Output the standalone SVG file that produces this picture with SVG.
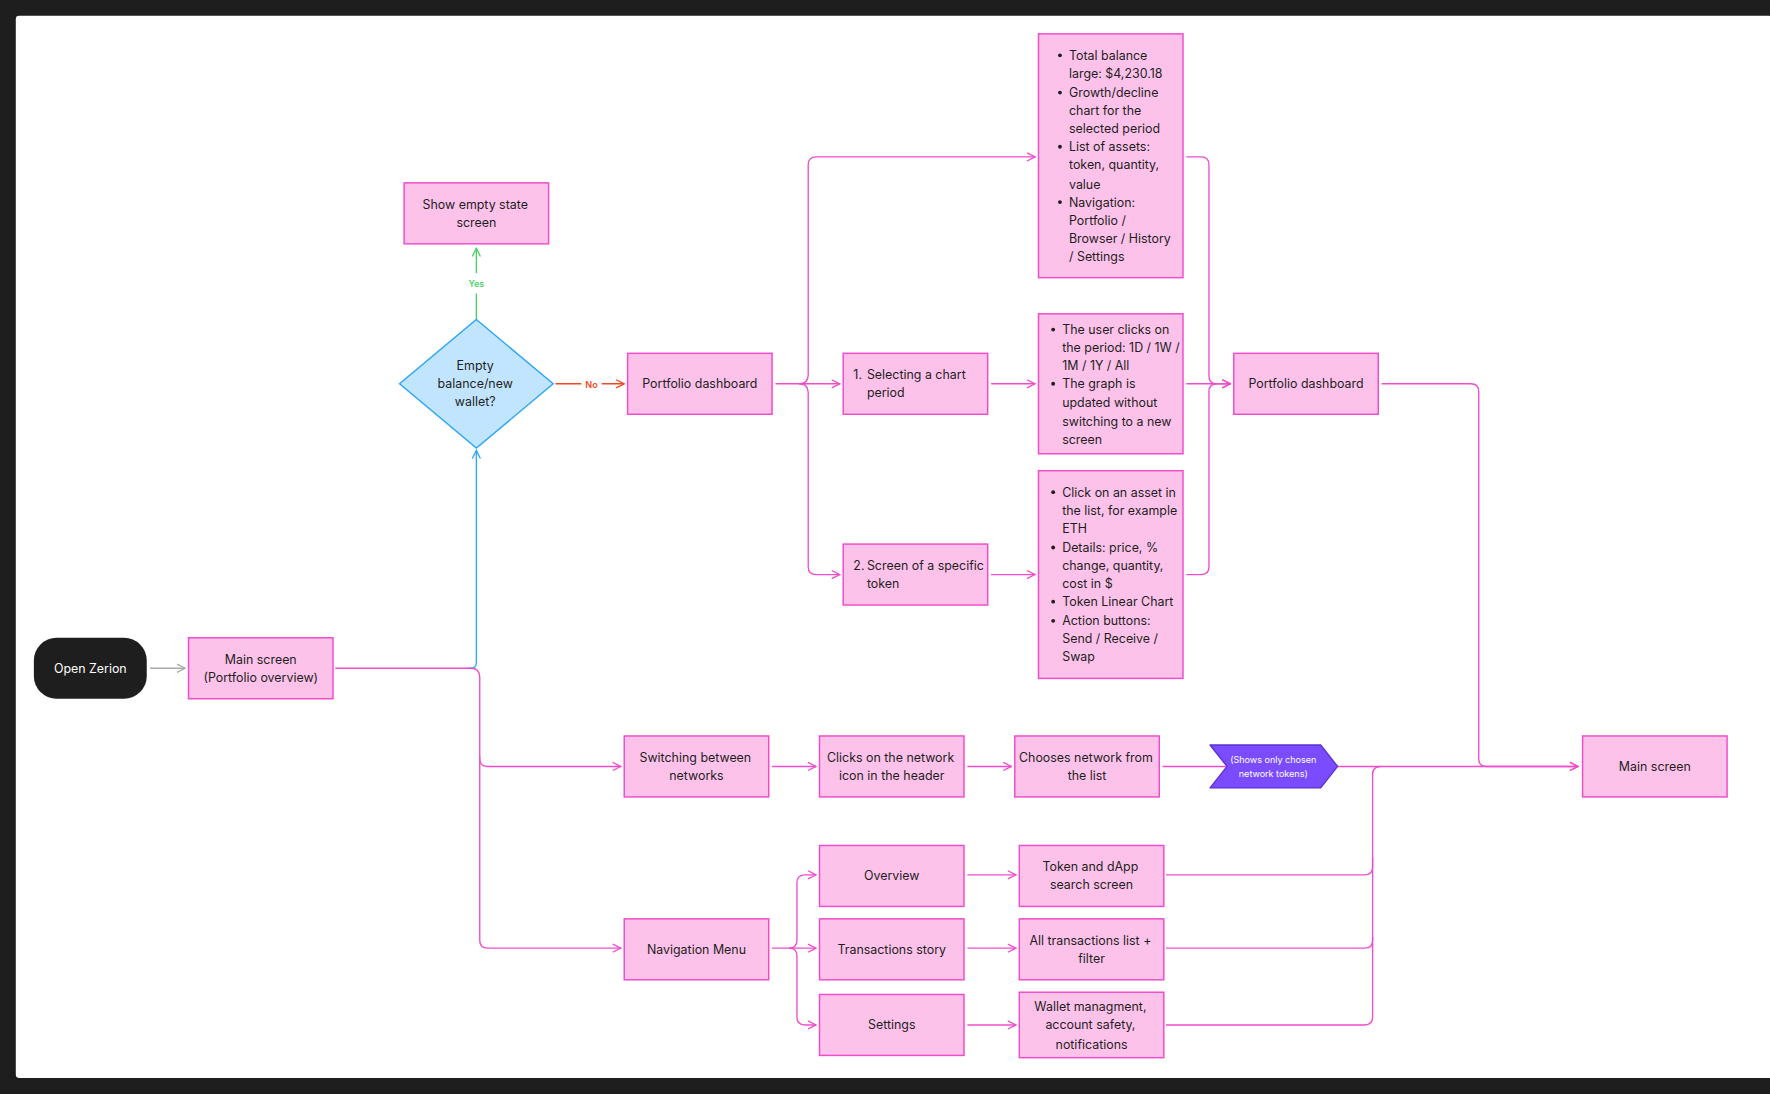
<svg xmlns="http://www.w3.org/2000/svg" width="1770" height="1094" viewBox="0 0 1770 1094">
<defs>
<style>
.n{fill:#fdc2ea;stroke:#f04ccb;stroke-width:1.3}
.t{font-family:Inter,"Liberation Sans",sans-serif;font-size:11px;fill:#1e1e1e}
.c{text-anchor:middle;dominant-baseline:central}
.l{fill:none;stroke:#f04ccb;stroke-width:1.2}
</style>
<marker id="a" viewBox="0 0 10 10" refX="9" refY="5" markerWidth="9" markerHeight="9" orient="auto" markerUnits="userSpaceOnUse"><path d="M1 1 L9 5 L1 9" fill="none" stroke="#f04ccb" stroke-width="1.3"/></marker>
<marker id="ag" viewBox="0 0 10 10" refX="9" refY="5" markerWidth="9" markerHeight="9" orient="auto" markerUnits="userSpaceOnUse"><path d="M1 1 L9 5 L1 9" fill="none" stroke="#aaa" stroke-width="1.3"/></marker>
<marker id="ab" viewBox="0 0 10 10" refX="9" refY="5" markerWidth="9" markerHeight="9" orient="auto" markerUnits="userSpaceOnUse"><path d="M1 1 L9 5 L1 9" fill="none" stroke="#2ea7f5" stroke-width="1.3"/></marker>
<marker id="agr" viewBox="0 0 10 10" refX="9" refY="5" markerWidth="9" markerHeight="9" orient="auto" markerUnits="userSpaceOnUse"><path d="M1 1 L9 5 L1 9" fill="none" stroke="#4cd166" stroke-width="1.3"/></marker>
<marker id="ar" viewBox="0 0 10 10" refX="9" refY="5" markerWidth="9" markerHeight="9" orient="auto" markerUnits="userSpaceOnUse"><path d="M1 1 L9 5 L1 9" fill="none" stroke="#f24822" stroke-width="1.3"/></marker>
</defs>
<rect width="1770" height="1094" fill="#1e1e1e"/>
<g transform="scale(1.1288)">
<rect x="14" y="14" width="1556" height="941" fill="#fff" rx="3"/>
<g id="connectors">
<line x1="133" y1="592" x2="164" y2="592" stroke="#aaa" stroke-width="1.2" marker-end="url(#ag)"/>
<path d="M414 592 H417 Q422 592 422 587 V399" fill="none" stroke="#2ea7f5" stroke-width="1.2" marker-end="url(#ab)"/>
<path class="l" d="M297 592 H417 Q425 592 425 600 V672 Q425 679 432 679 H550" marker-end="url(#a)"/>
<path class="l" d="M425 670 V833 Q425 840 432 840 H550" marker-end="url(#a)"/>
<path d="M422 283 V260 M422 242 V220" fill="none" stroke="#4cd166" stroke-width="1.2" marker-end="url(#agr)"/>
<text x="422" y="251" class="c" style="font-family:Inter,'Liberation Sans',sans-serif;font-size:8px;fill:#4cd166;font-weight:600">Yes</text>
<path d="M492 340 H515 M533 340 H553" fill="none" stroke="#f24822" stroke-width="1.2" marker-end="url(#ar)"/>
<text x="524" y="341" class="c" style="font-family:Inter,'Liberation Sans',sans-serif;font-size:8px;fill:#f24822;font-weight:600">No</text>
<path class="l" d="M687 340 H744" marker-end="url(#a)"/>
<path class="l" d="M708 340 Q716 340 716 332 V146 Q716 139 723 139 H917" marker-end="url(#a)"/>
<path class="l" d="M708 340 Q716 340 716 348 V502 Q716 509 723 509 H744" marker-end="url(#a)"/>
<path class="l" d="M878 340 H917" marker-end="url(#a)"/>
<path class="l" d="M878 509 H917" marker-end="url(#a)"/>
<path class="l" d="M1051 139 H1064 Q1071 139 1071 146 V333 Q1071 340 1078 340 H1090" marker-end="url(#a)"/>
<path class="l" d="M1051 340 H1090" marker-end="url(#a)"/>
<path class="l" d="M1051 509 H1064 Q1071 509 1071 502 V347 Q1071 340 1078 340"/>
<path class="l" d="M1224 340 H1303 Q1310 340 1310 347 V672 Q1310 679 1317 679 H1398" marker-end="url(#a)"/>
<path class="l" d="M684 679 H723" marker-end="url(#a)"/>
<path class="l" d="M857 679 H896" marker-end="url(#a)"/>
<path class="l" d="M1030 679 H1086"/>
<path class="l" d="M1185 679 H1398" marker-end="url(#a)"/>
<path class="l" d="M684 840 H723" marker-end="url(#a)"/>
<path class="l" d="M699 840 Q706 840 706 833 V782 Q706 775 713 775 H723" marker-end="url(#a)"/>
<path class="l" d="M699 840 Q706 840 706 847 V901 Q706 908 713 908 H723" marker-end="url(#a)"/>
<path class="l" d="M857 775 H900" marker-end="url(#a)"/>
<path class="l" d="M857 840 H900" marker-end="url(#a)"/>
<path class="l" d="M857 908 H900" marker-end="url(#a)"/>
<path class="l" d="M1033 775 H1209 Q1216 775 1216 768 V686 Q1216 679 1223 679"/>
<path class="l" d="M1033 840 H1209 Q1216 840 1216 833 V760"/>
<path class="l" d="M1033 908 H1209 Q1216 908 1216 901 V830"/>
</g>
<g id="open"><rect x="30" y="565" width="100" height="54" rx="20" fill="#1e1e1e"/><text x="80" y="592" class="t c" style="fill:#fff">Open Zerion</text></g>
<g id="main"><rect class="n" x="167" y="565" width="128" height="54"/><text x="231" y="584" class="t c">Main screen</text><text x="231" y="600" class="t c">(Portfolio overview)</text></g>
<g id="empty"><rect class="n" x="358" y="162" width="128" height="54"/><text x="421" y="181" class="t c">Show empty state</text><text x="422" y="197" class="t c">screen</text></g>
<g id="diamond"><polygon points="422,283 490,340 422,397 354,340" fill="#c2e5ff" stroke="#2ea7f5" stroke-width="1.3"/><text x="421" y="324" class="t c">Empty</text><text x="421" y="340" class="t c">balance/new</text><text x="421" y="356" class="t c">wallet?</text></g>
<g id="pd1"><rect class="n" x="556" y="313" width="128" height="54"/><text x="620" y="340" class="t c">Portfolio dashboard</text></g>
<g id="box1"><rect class="n" x="920" y="30" width="128" height="216"/>
<g class="t"><text x="947" y="53">Total balance</text><text x="947" y="69">large: $4,230.18</text><text x="947" y="86">Growth/decline</text><text x="947" y="102">chart for the</text><text x="947" y="118">selected period</text><text x="947" y="134">List of assets:</text><text x="947" y="150">token, quantity,</text><text x="947" y="167">value</text><text x="947" y="183">Navigation:</text><text x="947" y="199">Portfolio /</text><text x="947" y="215">Browser / History</text><text x="947" y="231">/ Settings</text></g>
<g fill="#1e1e1e"><circle cx="939" cy="49" r="1.7"/><circle cx="939" cy="82" r="1.7"/><circle cx="939" cy="130" r="1.7"/><circle cx="939" cy="179" r="1.7"/></g></g>
<g id="sel"><rect class="n" x="747" y="313" width="128" height="54"/><text x="756" y="336" class="t">1.</text><text x="768" y="336" class="t">Selecting a chart</text><text x="768" y="352" class="t">period</text></g>
<g id="box2"><rect class="n" x="920" y="278" width="128" height="124"/>
<g class="t"><text x="941" y="296">The user clicks on</text><text x="941" y="312">the period: 1D / 1W /</text><text x="941" y="328">1M / 1Y / All</text><text x="941" y="344">The graph is</text><text x="941" y="361">updated without</text><text x="941" y="377">switching to a new</text><text x="941" y="393">screen</text></g>
<g fill="#1e1e1e"><circle cx="933" cy="292" r="1.7"/><circle cx="933" cy="340" r="1.7"/></g></g>
<g id="tok"><rect class="n" x="747" y="482" width="128" height="54"/><text x="756" y="505" class="t">2.</text><text x="768" y="505" class="t">Screen of a specific</text><text x="768" y="521" class="t">token</text></g>
<g id="box3"><rect class="n" x="920" y="417" width="128" height="184"/>
<g class="t"><text x="941" y="440">Click on an asset in</text><text x="941" y="456">the list, for example</text><text x="941" y="472">ETH</text><text x="941" y="489">Details: price, %</text><text x="941" y="505">change, quantity,</text><text x="941" y="521">cost in $</text><text x="941" y="537">Token Linear Chart</text><text x="941" y="554">Action buttons:</text><text x="941" y="570">Send / Receive /</text><text x="941" y="586">Swap</text></g>
<g fill="#1e1e1e"><circle cx="933" cy="436" r="1.7"/><circle cx="933" cy="485" r="1.7"/><circle cx="933" cy="533" r="1.7"/><circle cx="933" cy="550" r="1.7"/></g></g>
<g id="pd2"><rect class="n" x="1093" y="313" width="128" height="54"/><text x="1157" y="340" class="t c">Portfolio dashboard</text></g>
<g id="sw"><rect class="n" x="553" y="652" width="128" height="54"/><text x="616" y="671" class="t c">Switching between</text><text x="617" y="687" class="t c">networks</text></g>
<g id="clk"><rect class="n" x="726" y="652" width="128" height="54"/><text x="789" y="671" class="t c">Clicks on the network</text><text x="790" y="687" class="t c">icon in the header</text></g>
<g id="ch"><rect class="n" x="899" y="652" width="128" height="54"/><text x="962" y="671" class="t c">Chooses network from</text><text x="963" y="687" class="t c">the list</text></g>
<g id="chev"><polygon points="1072,660 1170,660 1185,679 1170,698 1072,698 1087,679" fill="#7b4cff" stroke="#5b32cf" stroke-width="1.2" stroke-linejoin="round"/><text x="1128" y="673" class="c" style="font-family:Inter,'Liberation Sans',sans-serif;font-size:8px;fill:#fff">(Shows only chosen</text><text x="1128" y="685" class="c" style="font-family:Inter,'Liberation Sans',sans-serif;font-size:8px;fill:#fff">network tokens)</text></g>
<g id="main2"><rect class="n" x="1402" y="652" width="128" height="54"/><text x="1466" y="679" class="t c">Main screen</text></g>
<g id="ov"><rect class="n" x="726" y="749" width="128" height="54"/><text x="790" y="776" class="t c">Overview</text></g>
<g id="td"><rect class="n" x="903" y="749" width="128" height="54"/><text x="966" y="768" class="t c">Token and dApp</text><text x="967" y="784" class="t c">search screen</text></g>
<g id="nav"><rect class="n" x="553" y="814" width="128" height="54"/><text x="617" y="841" class="t c">Navigation Menu</text></g>
<g id="tr"><rect class="n" x="726" y="814" width="128" height="54"/><text x="790" y="841" class="t c">Transactions story</text></g>
<g id="all"><rect class="n" x="903" y="814" width="128" height="54"/><text x="966" y="833" class="t c">All transactions list +</text><text x="967" y="849" class="t c">filter</text></g>
<g id="set"><rect class="n" x="726" y="881" width="128" height="54"/><text x="790" y="908" class="t c">Settings</text></g>
<g id="wal"><rect class="n" x="903" y="879" width="128" height="58"/><text x="966" y="892" class="t c">Wallet managment,</text><text x="966" y="908" class="t c">account safety,</text><text x="967" y="925" class="t c">notifications</text></g>
</g>
</svg>
